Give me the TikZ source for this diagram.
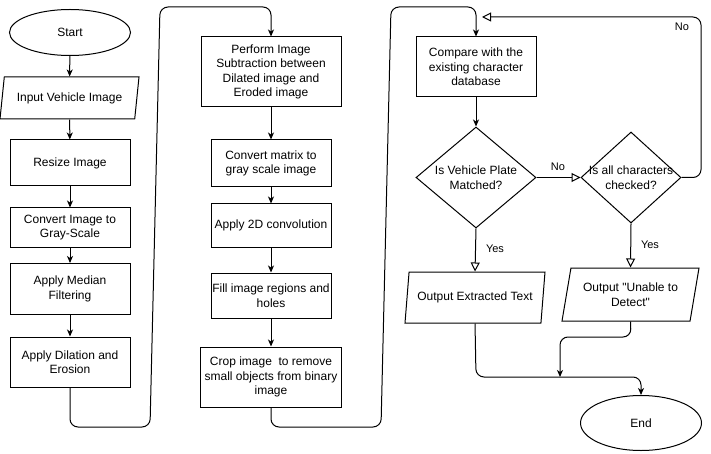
\documentclass[tikz,border=0pt]{standalone}
\usepackage{fontspec}
\setmainfont{Liberation Sans}
\usetikzlibrary{shapes.geometric,arrows.meta}
\begin{document}
\begin{tikzpicture}[x=1pt,y=-1pt,
  every node/.style={font=\fontsize{12}{14.5}\selectfont, align=center, inner sep=0pt},
  box/.style={draw, line width=1pt, minimum width=#1},
  box/.default=120,
  term/.style={draw, ellipse, line width=1pt, minimum width=121, minimum height=46},
  para/.style={draw, trapezium, line width=1pt, trapezium left angle=#1, trapezium right angle=180-#1, trapezium stretches body},
  dec/.style={draw, diamond, line width=1pt},
  line/.style={line width=1pt, rounded corners=8pt},
  flow/.style={line, -{Stealth[length=7pt,width=6pt,inset=2pt]}},
  oflow/.style={line, -{Triangle[open,length=9pt,width=9pt]}},
  lbl/.style={font=\fontsize{11}{13}\selectfont}
]
\useasboundingbox (0,0) rectangle (711,454);

% column 1
\node[term] (start) at (70,32.5) {Start};
\node[para=69, minimum width=139, minimum height=42] (inp) at (69.5,98) {Input Vehicle Image};
\node[box, minimum height=46] (resize) at (70,163) {Resize Image};
\node[box, minimum height=39] (gray) at (70,227.5) {Convert Image to\\Gray-Scale};
\node[box, minimum height=51] (median) at (70,289) {Apply Median\\Filtering};
\node[box, minimum height=50] (dil) at (70,362) {Apply Dilation and\\Erosion};

% column 2
\node[box=140, minimum height=70] (perf) at (271,72) {Perform Image\\Subtraction between\\Dilated image and\\Eroded image};
\node[box, minimum height=47] (convm) at (271,163.5) {Convert matrix to\\gray scale image};
\node[box, minimum height=43] (conv2d) at (271,225.5) {Apply 2D convolution};
\node[box, minimum height=45] (fill) at (271,295.5) {Fill image regions and\\holes};
\node[box=141, minimum height=60] (crop) at (271,377) {Crop image\ \ to remove\\small objects from binary\\image};

% column 3
\node[box, minimum height=60] (comp) at (476,67) {Compare with the\\existing character\\database};
\node[dec, minimum width=120, minimum height=101, label={[align=center]center:Is Vehicle Plate\\Matched?}] (d1) at (476,177.5) {};
\node[dec, minimum width=100, minimum height=91, label={[align=center]center:Is all characters\\checked?}] (d2) at (631,177.5) {};
\node[para=70, minimum width=140, minimum height=51] (out1) at (475,297.5) {Output Extracted Text};
\node[para=69, minimum width=137, minimum height=53] (out2) at (630.5,294.5) {Output \textquotedbl Unable to\\Detect\textquotedbl};
\node[term, minimum height=55] (end) at (641,423) {End};

% labels
\node[lbl] (no1) at (558,167) {No};
\node[lbl] (no2) at (682,27) {No};
\node[lbl] (yes1) at (495,249) {Yes};
\node[lbl] (yes2) at (650,245) {Yes};

% connectors column 1
\draw[flow] (start) -- (inp);
\draw[flow] (inp) -- (resize);
\draw[flow] (resize) -- (gray);
\draw[flow] (gray) -- (median);
\draw[flow] (median) -- (dil);
\draw[flow] (dil.south) -- (70,427) -- (150,427) -- (160,7) -- (271,7) -- (perf.north);

% column 2
\draw[flow] (perf) -- (convm);
\draw[flow] (convm) -- (conv2d);
\draw[flow] (conv2d) -- (fill);
\draw[flow] (fill) -- (crop);
\draw[flow] (crop.south) -- (271,427) -- (381,427) -- (391,7) -- (476,7) -- (comp.north);

% column 3
\draw[flow] (comp) -- (d1);
\draw[oflow] (d1.east) -- (d2.west);
\coordinate (back) at (482,17);
\draw[oflow] (d2.east) -- (701,177.5) -- (701,17) -- (back);
\draw[oflow] (d1.south) -- (out1.north);
\draw[oflow] (d2.south) -- (out2.north);
\coordinate (merge) at (560,377);
\draw[flow] (out2.south) -- (631,337) -- (560,337) -- (merge);
\draw[flow] (out1.south) -- (476,377) -- (641,377) -- (end.north);
\end{tikzpicture}
\end{document}
